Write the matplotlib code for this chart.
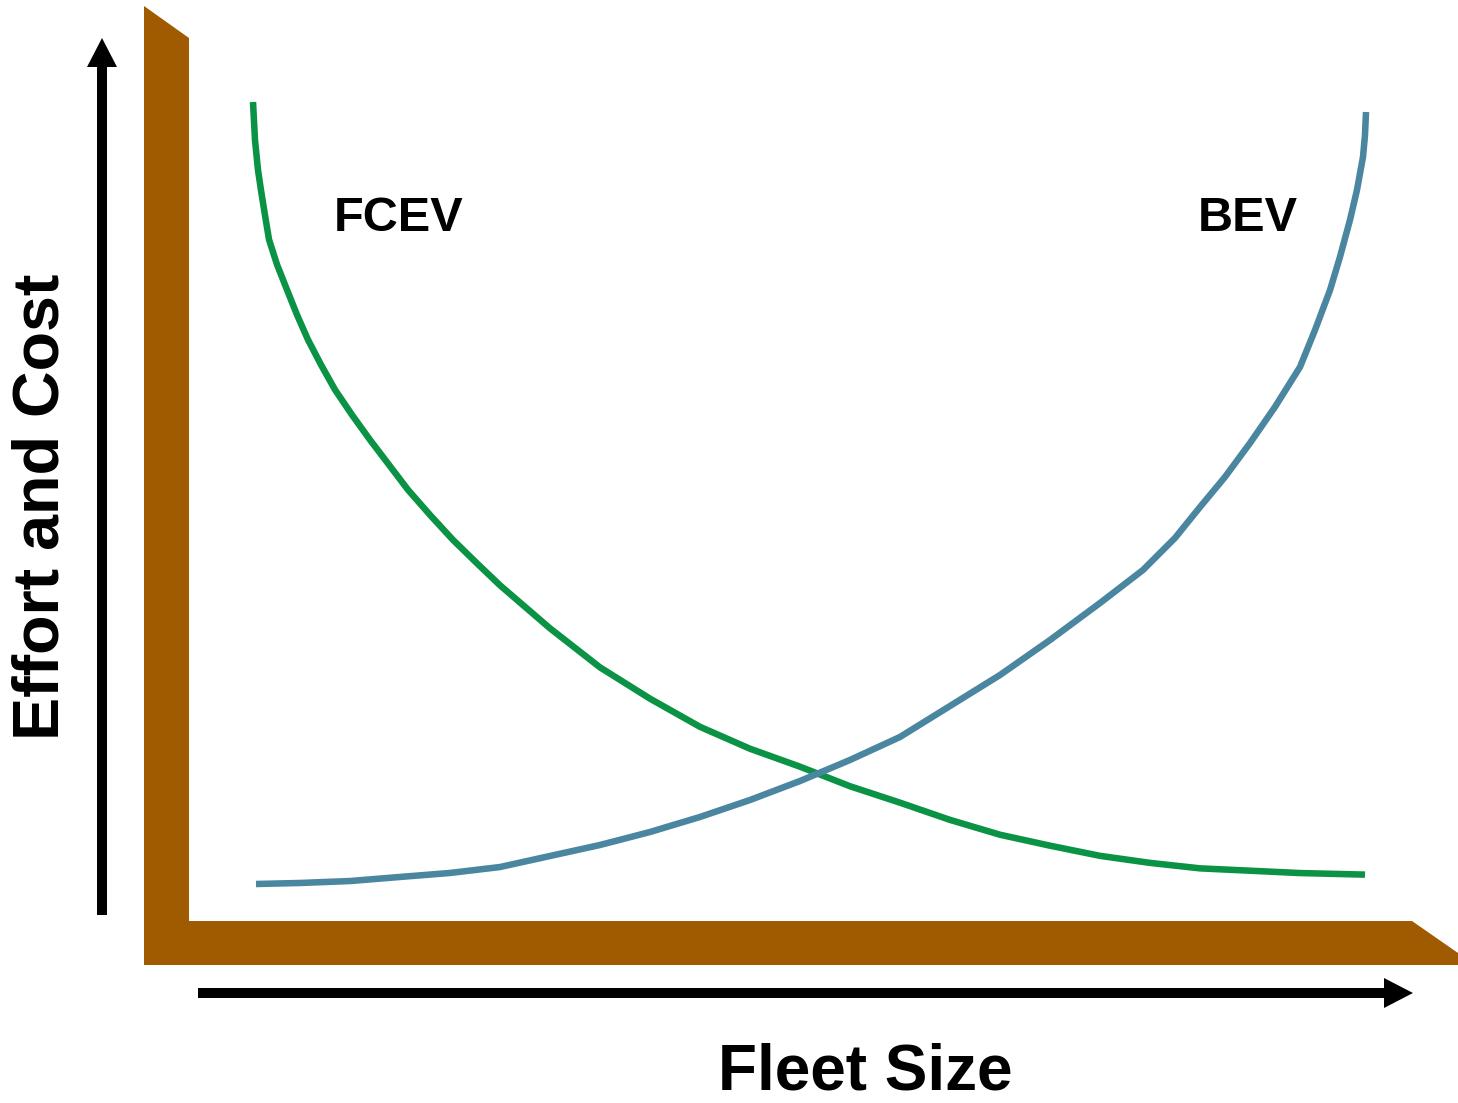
import matplotlib
matplotlib.use("Agg")
import matplotlib.pyplot as plt
from matplotlib.patches import Polygon, FancyArrow

# ---- data (normalized 0..100 units: fleet size vs effort/cost) ----
fcev_x = [0.0, 0.18, 0.45, 0.72, 1.08, 1.44, 2.16, 3.05, 3.95, 4.94, 6.11, 7.37, 8.89,
          10.51, 12.22, 13.93, 15.90, 17.97, 20.13, 22.19, 26.68, 31.18, 35.67, 40.16,
          44.65, 49.15, 53.64, 58.13, 62.62, 67.12, 71.61, 76.10, 80.59, 85.09, 89.58,
          94.07, 99.91]
fcev_y = [100.0, 95.1, 91.3, 88.7, 85.5, 82.4, 79.2, 76.0, 72.8, 69.6, 66.4, 63.2, 60.0,
          56.8, 53.6, 50.4, 47.2, 44.0, 41.0, 38.2, 32.7, 27.7, 23.7, 20.1,
          17.3, 15.0, 12.5, 10.4, 8.2, 6.3, 4.9, 3.6, 2.7, 2.0, 1.7,
          1.4, 1.2]
bev_x = [0.27, 4.22, 8.72, 13.21, 17.70, 22.19, 26.68, 31.18, 35.67, 40.16, 44.65, 49.15,
         53.64, 58.13, 62.62, 67.12, 71.61, 76.10, 79.96, 82.84, 85.09, 87.33, 89.58,
         91.82, 94.07, 95.42, 96.77, 97.66, 98.56, 99.19, 99.73, 99.91, 100.0]
bev_y = [0.0, 0.13, 0.38, 0.90, 1.41, 2.17, 3.58, 4.99, 6.65, 8.57, 10.74, 13.17,
         15.86, 18.80, 22.76, 26.73, 31.20, 35.93, 40.15, 44.25, 48.21, 52.05, 56.39,
         61.00, 66.11, 70.84, 75.96, 80.18, 84.91, 88.75, 92.97, 95.78, 98.72]
labels = ["FCEV", "BEV"]
x_label = "Fleet Size"
y_label = "Effort and Cost"

W, H = 1458, 1103
fig = plt.figure(figsize=(W / 100, H / 100), dpi=100)
plt.rcParams['font.family'] = ['Liberation Sans', 'DejaVu Sans']

# decoration overlay in pixel coordinates
deco = fig.add_axes([0, 0, 1, 1])
deco.set_xlim(0, W)
deco.set_ylim(H, 0)
deco.axis('off')

brown = '#a05a00'
deco.add_patch(Polygon([(144, 6), (189, 38), (189, 921), (1412, 921), (1458, 953),
                        (1458, 965), (144, 965)], closed=True, facecolor=brown,
                       edgecolor='none'))
deco.add_patch(FancyArrow(102, 915, 0, -877, width=10, head_width=30, head_length=29,
                          length_includes_head=True, color='black', lw=0))
deco.add_patch(FancyArrow(198, 993, 1215, 0, width=10, head_width=30, head_length=29,
                          length_includes_head=True, color='black', lw=0))

deco.text(334, 231, labels[0], fontsize=35, fontweight='bold', ha='left', va='baseline')
deco.text(1198, 231, labels[1], fontsize=35, fontweight='bold', ha='left', va='baseline')
deco.text(865, 1089, x_label, fontsize=46, fontweight='bold', ha='center', va='baseline')
deco.text(42, 507, y_label, fontsize=46.5, fontweight='bold', ha='center', va='center',
          rotation=90)

# data axes
x0, x1 = 253, 1366
y0, y1 = 884, 102
ax = fig.add_axes([x0 / W, (H - y0) / H, (x1 - x0) / W, (y0 - y1) / H])
ax.set_xlim(0, 100)
ax.set_ylim(0, 100)
ax.axis('off')
ax.patch.set_alpha(0)
ax.plot(fcev_x, fcev_y, color='#0a9245', lw=4.7, clip_on=False, solid_capstyle='butt',
        solid_joinstyle='round')
ax.plot(bev_x, bev_y, color='#4a86a0', lw=4.7, clip_on=False, solid_capstyle='butt',
        solid_joinstyle='round')

fig.savefig('out.png', dpi=100)
